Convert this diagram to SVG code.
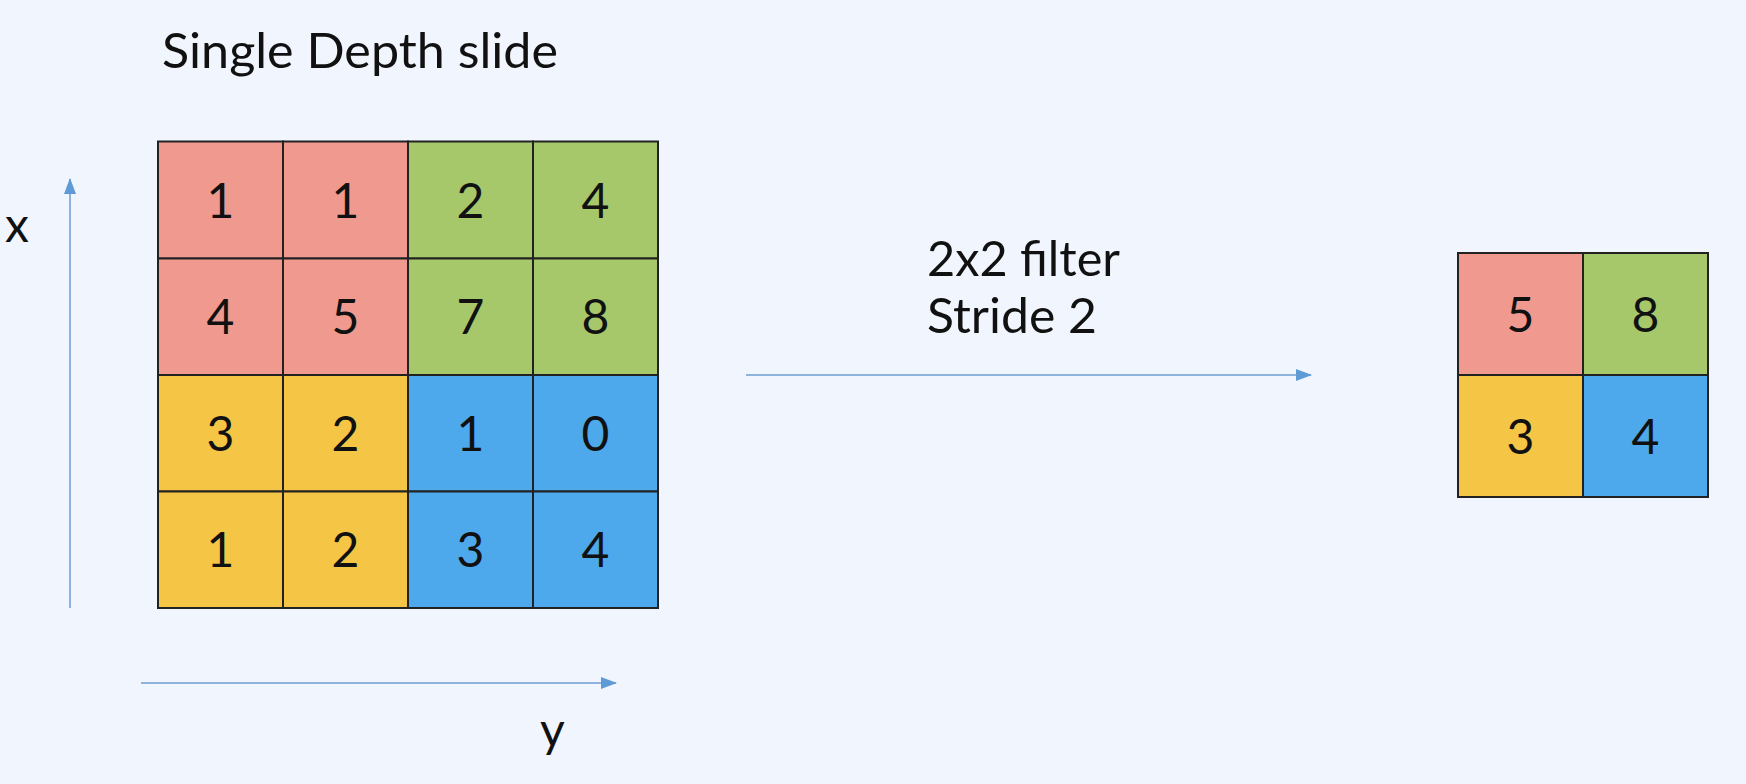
<svg xmlns="http://www.w3.org/2000/svg" width="1746" height="784" viewBox="0 0 1746 784">
<style>
.t{font-family:Lato,"Open Sans","Liberation Sans",sans-serif;fill:#111;}
.lbl{font-size:48px;}
.num{font-size:48px;text-anchor:middle;}
.cell{stroke:#222;stroke-width:2;}
.r{fill:#F0998E;}.g{fill:#A6C86A;}.yl{fill:#F5C545;}.b{fill:#4DA8EC;}
.ax{stroke:#8EB2DA;stroke-width:2;fill:none;}
</style>
<defs>
<marker id="ah" viewBox="0 0 16 12" refX="15" refY="6" markerWidth="16" markerHeight="12" markerUnits="userSpaceOnUse" orient="auto">
<path d="M0,0 L16,6 L0,12 Z" fill="#5E9BD6"/>
</marker>
</defs>
<rect width="1746" height="784" fill="#F1F6FE"/>
<text class="t lbl" x="162" y="68" textLength="396" lengthAdjust="spacingAndGlyphs">Single Depth slide</text>
<g id="connectors">
<line class="ax" x1="70" y1="608" x2="70" y2="179" marker-end="url(#ah)"/>
<line class="ax" x1="141" y1="683" x2="616" y2="683" marker-end="url(#ah)"/>
<line class="ax" x1="746" y1="375" x2="1311" y2="375" marker-end="url(#ah)"/>
</g>
<g id="axis-x"><text class="t lbl" x="5" y="242">x</text></g>
<g id="axis-y"><text class="t lbl" x="540" y="747">y</text></g>
<g id="filter-label">
<text class="t lbl" x="927" y="276" textLength="193" lengthAdjust="spacingAndGlyphs">2x2 filter</text>
<text class="t lbl" x="927" y="333" textLength="170" lengthAdjust="spacingAndGlyphs">Stride 2</text>
</g>
<g id="input-grid">
<rect class="cell r" x="158" y="141.5" width="125" height="117"/>
<rect class="cell r" x="283" y="141.5" width="125" height="117"/>
<rect class="cell g" x="408" y="141.5" width="125" height="117"/>
<rect class="cell g" x="533" y="141.5" width="125" height="117"/>
<rect class="cell r" x="158" y="258.5" width="125" height="116.5"/>
<rect class="cell r" x="283" y="258.5" width="125" height="116.5"/>
<rect class="cell g" x="408" y="258.5" width="125" height="116.5"/>
<rect class="cell g" x="533" y="258.5" width="125" height="116.5"/>
<rect class="cell yl" x="158" y="375" width="125" height="116.5"/>
<rect class="cell yl" x="283" y="375" width="125" height="116.5"/>
<rect class="cell b" x="408" y="375" width="125" height="116.5"/>
<rect class="cell b" x="533" y="375" width="125" height="116.5"/>
<rect class="cell yl" x="158" y="491.5" width="125" height="116.5"/>
<rect class="cell yl" x="283" y="491.5" width="125" height="116.5"/>
<rect class="cell b" x="408" y="491.5" width="125" height="116.5"/>
<rect class="cell b" x="533" y="491.5" width="125" height="116.5"/>
<text class="t num" x="220.5" y="217.5">1</text>
<text class="t num" x="345.5" y="217.5">1</text>
<text class="t num" x="470.5" y="217.5">2</text>
<text class="t num" x="595.5" y="217.5">4</text>
<text class="t num" x="220.5" y="334">4</text>
<text class="t num" x="345.5" y="334">5</text>
<text class="t num" x="470.5" y="334">7</text>
<text class="t num" x="595.5" y="334">8</text>
<text class="t num" x="220.5" y="451">3</text>
<text class="t num" x="345.5" y="451">2</text>
<text class="t num" x="470.5" y="451">1</text>
<text class="t num" x="595.5" y="451">0</text>
<text class="t num" x="220.5" y="567">1</text>
<text class="t num" x="345.5" y="567">2</text>
<text class="t num" x="470.5" y="567">3</text>
<text class="t num" x="595.5" y="567">4</text>
</g>
<g id="output-grid">
<rect class="cell r" x="1458" y="253" width="125" height="122"/>
<rect class="cell g" x="1583" y="253" width="125" height="122"/>
<rect class="cell yl" x="1458" y="375" width="125" height="122"/>
<rect class="cell b" x="1583" y="375" width="125" height="122"/>
<text class="t num" x="1520.5" y="331.5">5</text>
<text class="t num" x="1645.5" y="331.5">8</text>
<text class="t num" x="1520.5" y="453.5">3</text>
<text class="t num" x="1645.5" y="453.5">4</text>
</g>
</svg>
